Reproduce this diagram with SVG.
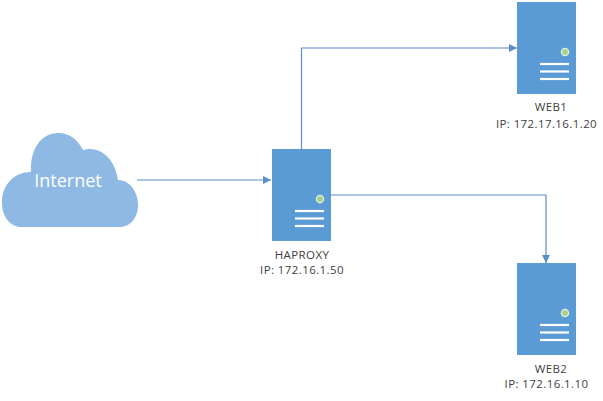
<svg xmlns="http://www.w3.org/2000/svg" width="603" height="401" viewBox="0 0 603 401">
<style>
.srv{fill:#5B9BD5}
.bar{stroke:#FFFFFF;stroke-width:2.2}
.led{fill:#A9D18E;stroke:#E2F0D9;stroke-width:1.3}
.lbl{font-family:"Open Sans",sans-serif;font-size:11.5px;fill:#404040;text-anchor:middle;letter-spacing:0.4px}
.conn{fill:none;stroke:#5B8FC9;stroke-width:1.2}
</style>
<defs>
<marker id="arr" viewBox="0 0 10 10" refX="10" refY="5" markerWidth="8" markerHeight="8" markerUnits="userSpaceOnUse" orient="auto">
<path d="M0,0 L10,5 L0,10 Z" fill="#5B8FC9"/>
</marker>
<g id="server">
<rect x="0" y="0" width="59" height="92" class="srv"/>
<circle cx="48" cy="50" r="3.6" class="led"/>
<line x1="23" y1="62" x2="52" y2="62" class="bar"/>
<line x1="23" y1="69.5" x2="52" y2="69.5" class="bar"/>
<line x1="23" y1="77" x2="52" y2="77" class="bar"/>
</g>
</defs>
<rect width="603" height="401" fill="#FFFFFF"/>
<g id="connectors">
<line x1="137" y1="180" x2="271" y2="180" class="conn" marker-end="url(#arr)"/>
<polyline points="301.5,149 301.5,48 517,48" class="conn" marker-end="url(#arr)"/>
<polyline points="331,195 546,195 546,263" class="conn" marker-end="url(#arr)"/>
</g>
<g id="internet">
<path d="M22,227 C10,227 2,217 2,202 C2,185 14,172 31,172 C30,148 42,133 58,133 C70,133 78,140 83,150 C98,145 115,157 118,180 C130,180 138,192 138,205 C138,218 130,227 120,227 Z" fill="#8DB9E4"/>
<text x="68" y="187" font-family="'Open Sans',sans-serif" font-size="18" fill="#FFFFFF" text-anchor="middle">Internet</text>
</g>
<g id="haproxy">
<use href="#server" x="272" y="149"/>
<text x="302" y="259" class="lbl">HAPROXY</text>
<text x="302" y="274" class="lbl">IP: 172.16.1.50</text>
</g>
<g id="web1">
<use href="#server" x="517" y="2"/>
<text x="551" y="111" class="lbl">WEB1</text>
<text x="546.5" y="128" class="lbl">IP: 172.17.16.1.20</text>
</g>
<g id="web2">
<use href="#server" x="517" y="263"/>
<text x="551" y="373" class="lbl">WEB2</text>
<text x="546.5" y="388" class="lbl">IP: 172.16.1.10</text>
</g>
</svg>
